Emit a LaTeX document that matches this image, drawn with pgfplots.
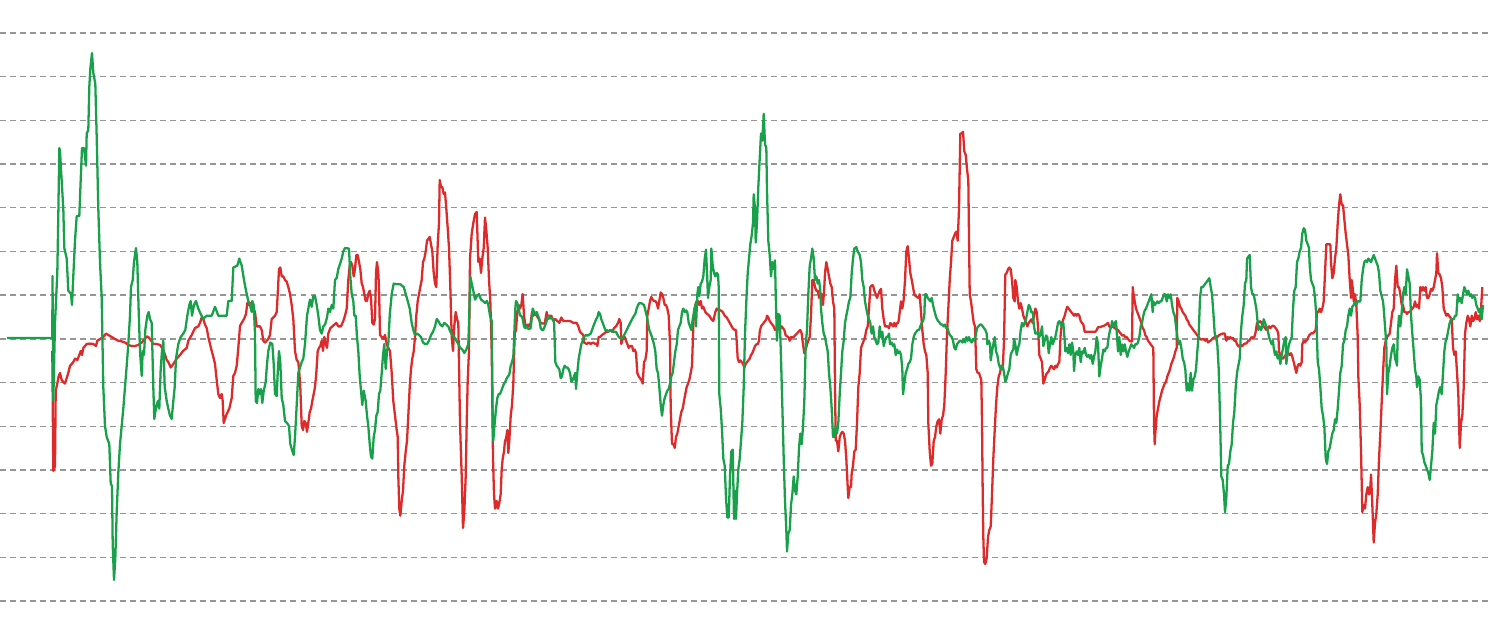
\documentclass[border=0pt]{standalone}
\usepackage{pgfplots}
\pgfplotsset{compat=1.18}
\definecolor{lnred}{RGB}{221,42,42}
\definecolor{lngreen}{RGB}{24,160,74}
\definecolor{gridgray}{RGB}{150,150,150}
\begin{document}
\begin{tikzpicture}
\useasboundingbox (0,0) rectangle (14.9cm,6.33cm);
\begin{axis}[
  at={(0,0)}, anchor=south west,
  scale only axis, width=14.9cm, height=6.33cm,
  xmin=0, xmax=1490, ymin=0, ymax=633, y dir=reverse,
  axis line style={draw=none},
  xtick=\empty,
  ytick={33,76.7,120.4,164.1,207.8,251.5,295.2,339,382.6,426.3,470,513.7,557.4,601.1},
  yticklabels={}, major tick length=0pt,
  ymajorgrids,
  grid style={gridgray, line width=0.4pt, dash pattern=on 1.7pt off 1.15pt},
  clip=false,
]
% red series
\addplot[lnred, line width=0.65pt, line join=round, mark=none] coordinates {
(52.3,351) (53.3,471) (55,466) (55.7,391) (57.3,383.6) (58.7,376) (60,373) (61.7,380) (63.3,382) (65,383.6) (66.7,378) (68.3,373) (70,365.7) (71.7,364) (73.3,362) (75,358.6) (77.3,360) (79.3,355) (80.7,351) (82,355) (83.3,348) (85,346) (86.7,344) (90,343.6) (93.3,344) (96,346) (97.3,340.7) (100,339) (103.3,337) (106,333.6) (108.3,335) (111.7,337) (115,339) (118.3,340.7) (121.7,341.4) (125,342.5) (128.3,345) (131.7,346) (135,346) (138.3,345) (141.7,342.5) (143.3,340.7) (145,339) (146.7,336.4) (148.3,337) (150,339) (153.3,344) (156.7,344) (160,345) (163.3,349.6) (166.7,360) (168.3,362) (170.7,367.5) (173.3,364) (176.7,358.6) (180,355) (183.3,350.7) (186.7,348) (188.3,340.7) (191.7,335) (195,328) (198.3,326.4) (200,322.9) (201.7,317.5) (203.3,319) (205,324.6) (206.7,328) (208.3,337) (210,344) (211.7,351) (213.3,356.8) (215,364) (216.7,380) (218.3,394) (220,398) (221.7,394) (222.7,401) (223.7,423) (225,419) (226.7,414) (229.3,408.6) (231.7,398) (233.3,376) (235,372.9) (236.7,365.7) (238.3,348) (240,326) (241.7,322.9) (244,319) (246,314) (247.3,303)
(248.3,305) (250,303) (251.7,305) (253.3,308.6) (255,312) (256.7,326.4) (260,326.4) (261.7,330) (263.3,340.7) (265,342.5) (266.7,340.7) (268.3,339) (270,335) (271.7,319) (273.3,317.5) (275,315.7) (276.7,312) (277.7,294) (279,269) (280.3,267.5) (281.7,276.4) (283.3,276.4) (285,280) (286.7,281.8) (288.3,287) (290,294) (291.7,305) (293.3,319) (295,351) (296.7,360) (298.3,362) (299.3,373) (300.3,387) (301.7,426) (303,430) (304.3,421) (305.7,423) (307,431.8) (308.3,423) (309.7,412) (311,408.6) (312.3,401) (313.7,394) (315,387) (316.3,373) (317.7,351) (319,347.9) (320.3,346) (321.7,340.7) (323,351) (324.3,337) (325.7,344) (327,347.9) (328.3,333.6) (330.3,328.2) (332.3,326.4) (334.3,324.6) (336.3,322.9) (338.3,326.4) (341,326.4) (343.3,321) (345,315.7) (346.7,308.6) (348.3,280) (349.7,265.7) (351,262) (352.3,265.7) (353.7,276.4) (355,269) (356.3,255) (357.7,255) (359,262) (360.3,269) (361.7,283.6) (363,287) (364.3,294) (365.7,301) (367,301) (368.3,294) (369.7,290.7) (371,297.9) (372.3,322.9) (373.7,324.6) (375,319) (376,272.9) (377,262) (378.3,272.9) (379,287) (380,335) (381.7,337) (383.3,339) (385,335) (386.7,344) (388.3,347.9) (390,351) (391.7,373) (393.3,401) (395,415.7) (396.7,430) (397.7,437) (398.3,476) (399.3,508.6) (400.3,515.7) (401.7,501) (403,490.7) (404.3,465.7) (405.7,451.4) (407,440.7) (408.3,415.7) (409.7,387) (411,369) (412.3,358.6) (413.7,351.4) (415,337) (416.3,315.7) (417.7,301) (419,294) (420.3,287) (421.7,280) (423,262) (424.3,258.6) (425.7,251.4) (427,240.7) (428.3,239) (429.7,237) (431,244.3) (432.3,251.4) (433.7,272.9) (435,283.6) (436.3,287) (437.7,244.3) (439,223) (439.7,180) (441,187) (442.3,187) (443.7,194) (445,192.5) (446.3,208.6) (447.7,228) (449,248) (450.3,287) (451.7,337) (453,351) (454.3,326) (455.7,312) (457,319) (458.3,322.9) (460,423) (461.7,476) (463,528) (464.3,512) (465.7,476) (466.7,423) (467.7,380) (469,351) (470,258.6) (471.7,233.6) (473.3,223) (475,214) (476.7,212) (478.3,262) (479.7,258.6) (481,272.9) (482.3,258.6) (483.7,248) (485,217.5) (486.3,230) (487.7,248) (489,280) (490.3,301) (491.7,351) (493,458.6)
(494,494) (495,508.6) (496.7,501) (498,508.6) (499.3,503) (500.7,494) (501.7,469) (502.7,458.6) (504,451.4) (505,440.7) (506,439) (507.3,430) (508.3,453) (509.3,440.7) (510.7,415.7) (512,405) (513.3,383.6) (514.7,333.6) (516,330) (517.3,312) (518.7,305) (520,308.6) (521.3,305) (522.7,294) (524,315.7) (525.3,324.6) (526.7,326.4) (528,324.6) (529.3,326.4) (530.7,322.9) (532,312) (533.3,315.7) (534.7,314) (536.7,315.7) (538.7,319) (540.7,322.9) (542.7,323.6) (544.7,323.6) (546.7,312) (548,319) (549.3,315.7) (551.3,315.7) (553.3,321) (555.3,319) (557.3,321) (559.3,322.9) (561.3,317.5) (563.3,321) (566.7,321) (570,321) (573.3,322.9) (576.7,322.9) (578.3,326.4) (580,331.8) (581.7,333.6) (583.3,335) (584,342.5) (586.7,344) (588.7,342.5) (590.7,344) (592.7,342.5) (594.7,343.6) (596.7,344) (597.3,346) (598.7,337) (600,337) (602,335) (604,333.6) (606,331.8) (608,331.8) (610,330) (612,331.8) (614,328.2) (616,326.4) (618,322.9) (619.3,319) (620.7,322.9) (621.3,344) (622.7,339) (624.7,337) (626,340.7) (627.3,344) (628.7,347.9) (630,346) (632,346) (633.3,351) (634.7,349.6) (636,353) (637.3,373) (638.7,376.4) (640,378.2) (641.3,380) (642.7,383.6) (644,362) (645.3,360) (646.7,351) (647.3,315.7) (648.7,308.6) (650,301) (651.3,297) (652.7,299.6) (654,301) (655.3,301) (656.7,303) (658,308.6) (659.3,301) (660.7,292.5) (662,294) (663.3,297.9) (664.7,305) (666,305) (667.3,308.6) (668.7,315.7) (670,344) (670.7,408.6) (672,444) (673.3,444) (674.7,447.9) (676,437) (677.3,433.6) (678.7,426) (680,419) (681.3,412) (682.7,408.6) (684,401) (685.3,394) (686.7,387) (688,383.6) (689.3,380) (690.7,373) (692,365.7) (693.3,326.4) (694,312) (695.3,305) (696.7,301) (698,301) (699.3,305) (700.7,301) (702,308.6) (703.3,306.8) (705.3,312) (707.3,314) (709.3,315.7) (711.3,319) (713.3,321) (715.3,312) (716.7,308.6) (718.7,310.4) (720.7,310.4) (722.7,312) (724.7,315.7) (726.7,317.5) (728.7,321) (730.7,324.6) (732.7,328.2) (734.7,330) (736,330)
(737.7,358.6) (739,362.1) (740.3,360.4) (741.7,362.1) (743,363.9) (744.3,367.5) (745.7,363.9) (747,362.1) (748.3,360.4) (749.7,358.6) (751,355) (752.3,353.2) (753.7,349.6) (755,346.1) (756.3,344.3) (757.7,344.3) (759,340.7) (759.7,331.8) (761,326.4) (762.3,324.6) (763.7,322.9) (765,321.1) (766.3,319.3) (767,315.7) (768.3,317.5) (769.7,321.1) (771,322.9) (772.3,324.6) (773.7,326.4) (775,330) (776.3,328.2) (777.7,330) (779,326.4) (780.3,328.2) (781.7,326.4) (783,328.2) (784.3,330) (785.7,335.4) (787,336.4) (788.3,337.1) (789.7,340.7) (791,337.1) (793.7,337.1) (795,335.4) (797,333.6) (798.3,331.8) (800.3,330) (801.7,333.6) (803,344.3) (804.3,353.2) (805.7,349.6) (807,344.3) (808.3,340.7) (809.7,337.1) (811,315.7) (812.3,280) (813.7,280) (815,287.1) (816.3,290.7) (817.7,290.7) (819,297.9) (820.3,294.3) (821.7,294.3) (823,305) (824.3,287.1) (825,272.9) (826.3,262.1) (827.7,269.3) (829,276.4) (830.3,283.6) (831.7,287.1) (833,301.4) (834.3,308.6) (835,387.1) (835.7,440.7) (837,440.7) (838.3,451.4) (839.7,437.1) (841,433.6) (842.3,431.8) (843.7,433.6) (845,440.7) (846.3,458.6) (847.7,487.1) (848.3,497.9) (849.7,487.1) (851,487.1) (851.7,472.9) (853,465.7) (854.3,451.4) (855.7,449.6) (857,422.9) (858.3,387.1) (859.7,372.9) (861,347.9) (862.3,344.3) (863.7,340.7) (865,337.1) (866.3,330) (867.7,326.4) (869,308.6) (870.3,287.1) (871.7,285.4) (873,285.4) (874.3,290.7) (875.7,294.3) (877,297.9) (878.3,294.3) (879.7,290.7) (881,288.9) (882.3,308.6) (883.7,319.3) (885,326.4) (887.7,326.4) (889,328.2) (890.3,322.9) (891.7,324.6) (893,326.4) (894.3,322.9) (895.7,326.4) (897,322.9) (898.3,322.9) (899.7,312.1) (901,301.4) (902.3,308.6) (903.7,299.6) (905,280) (906.3,251.4) (907.7,246.1) (909,258.6) (910.3,272.9) (911.7,280) (913,287.1) (914.3,294.3) (915.7,296.1) (917,297.1) (918.3,297.9) (919.7,294.3) (921,312.1) (922.3,330) (923.7,344.3) (925,351.4) (926.3,355) (927.7,372.9) (928.3,422.9) (929.7,451.4) (931,465.7) (932.3,463.9) (933.7,440.7) (935,437.1) (936.3,426.4) (937.7,421.1) (939,419.3) (940.3,433.6) (941.7,419.3) (943,415.7) (944.3,405) (945.7,372.9) (947,333.6) (948.3,308.6) (949.7,280) (951,262.1) (952.3,240.7) (953.7,237.1) (955,233.6) (956.3,231.8) (957.7,240.7) (959,208.6) (960.3,133.6) (961.7,133.6) (963,131.8) (964.3,151.4) (965.7,155) (967,169.3) (968.3,180) (969.7,294.3) (971,301.4) (972.3,312.1) (973.7,322.9) (975,326.4) (976.3,369.3) (977.7,372.9) (979,372.9)
(981.3,380) (982,422.9) (982.7,494.3) (983.3,537.1) (984,562.1) (985.3,564) (986.7,557.9) (988,537.1) (989.3,530) (990.7,526.4) (992,494.3) (993.3,458.6) (994.7,430) (996,405) (997.3,387.1) (998.7,376.4) (1000,372.9) (1001.3,365.7) (1002.7,369.3) (1004,340.7) (1005.3,274.6) (1006.7,272.9) (1008,269.3) (1009.3,267.5) (1010.7,269.3) (1012,280) (1013.3,297.9) (1014.7,301.4) (1015.3,280) (1016.7,287.1) (1018,301.4) (1019.3,308.6) (1020.7,303.2) (1022,308.6) (1023.3,315.7) (1024.7,319.3) (1026,322.9) (1027.3,326.4) (1028.7,322.9) (1030,321.1) (1031.3,319.3) (1032.7,322.9) (1034,315.7) (1035.3,308.6) (1036.7,312.1) (1038,326.4) (1039.3,355) (1040.7,358.6) (1042,362.1) (1043.3,383.6) (1044.7,380) (1046,374.6) (1047.3,372.9) (1048.7,371.1) (1050,367.5) (1051.3,365.7) (1052.7,367.5) (1054,369.3) (1055.3,365.7) (1056.7,367.5) (1058,363.9) (1059.3,362.1) (1060.7,333.6) (1062,322.9) (1063.3,319.3) (1064.7,315.7) (1066,310.4) (1067.3,306.8) (1068.7,308.6) (1070,310.4) (1071.3,312.1) (1072.7,313.9) (1074,315.7) (1075.3,313.9) (1076.7,315.7) (1078,313.9) (1079.3,315.7) (1080.7,321.1) (1082,322.9) (1083.3,324.6) (1084.7,331.8) (1086.7,331.8) (1090,331.8) (1093.3,331.8) (1095.3,331.8) (1096.7,330) (1098,327.1) (1100,327.1) (1102,326.4) (1104,325.7) (1106,324.6) (1108,322.9) (1109.3,326.4) (1110.7,327.1) (1112.7,326.4) (1114.7,328.2) (1116.7,329.3) (1118,330) (1119.3,331.8) (1120.7,333.6) (1122,335.4) (1124,335.4) (1125.3,337.1) (1126.7,337.1) (1128,338.9) (1129.3,340.7) (1130.7,341.4) (1132,341.4) (1132.7,287.1) (1133.3,292.5) (1134.7,301.4) (1136,308.6) (1137.3,312.1) (1138.7,315.7) (1140,319.3) (1141.3,322.9) (1142.7,328.2) (1144,330) (1145.3,335.4) (1146.7,337.1) (1148,340.7) (1149.3,342.5) (1150.7,344.3) (1152,346.1) (1153.3,347.9) (1154,422.9) (1154.7,444.3) (1155.3,433.6) (1156.7,415.7) (1158,408.6) (1159.3,401.4) (1160.7,396.1) (1162,390.7) (1163.3,387.1) (1164.7,383.6) (1166,381.8) (1167.3,376.4) (1168.7,372.9) (1170,369.3) (1171.3,363.9) (1172.7,360.4) (1174,356.8) (1175.3,351.4) (1176.7,347.9) (1177.3,297.9) (1178.7,301.4) (1180,306.8) (1181.3,308.6) (1182.7,312.1) (1184,313.9) (1185.3,315.7) (1186.7,319.3) (1188,321.1) (1189.3,324.6) (1190.7,326.4) (1192,328.2) (1193.3,330) (1194.7,331.8) (1196,333.6) (1197.3,335.4) (1198.7,337.1) (1200,338.9) (1201.3,339.6) (1203.3,338.9) (1205.3,340.7) (1206.7,339) (1208,342.5) (1209.3,341.4) (1210.7,340.7) (1212,339) (1213.3,337.9) (1214.7,337.1) (1216,336.4) (1217.3,337.1) (1218.7,335.4) (1220.7,334.3) (1222.7,333.6) (1224.7,333.6)
(1226.3,340.7) (1227.7,337.1) (1229,338.9) (1230.3,337.1) (1231.7,338.9) (1233,337.9) (1234.3,340.7) (1235.7,340.7) (1237,344.3) (1238.3,346.1) (1239.7,347.1) (1241,345) (1242.3,346.1) (1243.7,344.3) (1245,343.6) (1246.3,343.6) (1247.7,341.4) (1249,340.7) (1250.3,338.9) (1251.7,337.1) (1253,337.9) (1254.3,337.1) (1255.7,331.8) (1257,322.9) (1258.3,322.9) (1259.7,321.1) (1261,322.1) (1262.3,324.6) (1263.7,326.4) (1265,328.2) (1266.3,330) (1267.7,328.2) (1269,326.4) (1270.3,328.2) (1271.7,326.4) (1273,325.7) (1274.3,326.4) (1275.7,328.2) (1277,330) (1278.3,333.6) (1279,351.4) (1280.3,355) (1281.7,358.6) (1283,358.6) (1284.3,356.8) (1285.7,355) (1287,355) (1288.3,353.2) (1289.7,355) (1291,353.2) (1292.3,356.8) (1293.7,362.1) (1295,367.5) (1296.3,372.9) (1297.7,365.7) (1299,363.9) (1300.3,365.7) (1301.7,362.1) (1302.3,344.3) (1303.7,340.7) (1305,342.5) (1306.3,340.7) (1307.7,338.9) (1309,335.4) (1310.3,334.3) (1311.7,332.9) (1313,333.6) (1314.3,331.8) (1315.7,330) (1317,312.1) (1318.3,312.1) (1319.7,308.6) (1321,312.1) (1322.3,308.6) (1323.7,301.4) (1325,272.9) (1326.3,244.3) (1329,244.3) (1330.3,244.3) (1331,262.1) (1332.3,278.2) (1333.7,272.9) (1335,258.6) (1336.3,247.9) (1337.7,222.9) (1339,205) (1340.3,194.3) (1341.7,205) (1343,205) (1344.3,219.3) (1345.7,233.6) (1347,244.3) (1348.3,255) (1349.7,280) (1351,297.9) (1351.7,280) (1353,290.7) (1353.7,301.4) (1355,294.3) (1356.3,305) (1357.7,337.1) (1358.3,376.4) (1359.7,405) (1361,451.4) (1361.7,483.6) (1362.3,512.1) (1363.7,505) (1365,508.6) (1366.3,494.3) (1367.7,487.1) (1369,494.3) (1370.3,487.1) (1371,474.6) (1372.3,505) (1373.7,542.5) (1375,522.9) (1376.3,513.9) (1377.7,494.3) (1379,458.6) (1380.3,433.6) (1381.7,401.4) (1383,372.9) (1384.3,347.9) (1385.7,340.7) (1387,337.1) (1388.3,335.4) (1389.7,333.6) (1391,322.9) (1392.3,312.1) (1393.7,308.6) (1395,280) (1396.3,265.7) (1397.7,287.1) (1399,287.1) (1400.3,294.3) (1401.7,305) (1403,305) (1404.3,312.1) (1405.7,312.1) (1407,313.9) (1408.3,312.1) (1409.7,312.1) (1411,310.4) (1412.3,308.6) (1413.7,306.8) (1415,301.4) (1416.3,306.8) (1417.7,305) (1419,308.6) (1420.3,287.1) (1421.7,290.7) (1423,287.1) (1424.3,290.7) (1425.7,287.1) (1427,297.9) (1428.3,297.9) (1429.7,294.3) (1431,288.9) (1432.3,290.7) (1433.7,287.1) (1435,280) (1436.3,272.9) (1437,253.2) (1438.3,272.9) (1439.7,274.6) (1441,278.2) (1442.3,287.1) (1443.7,308.6) (1445,312.1) (1446.3,315.7) (1447.7,313.9) (1449,315.7) (1450.3,317.5) (1451.7,319.3) (1453,347.9) (1454.3,355) (1455.7,351.4) (1457,372.9) (1458.3,394.3) (1459.7,447.9) (1461,422.9) (1462.3,415.7) (1463.7,387.1) (1465,333.6) (1466.3,322.9) (1467.7,315.7) (1469,319.3) (1470.3,326.4) (1471.7,315.7) (1473,321.1) (1474.3,319.3) (1475.7,312.1) (1477,319.3) (1478.3,315.7) (1479.7,321.1) (1481,308.6) (1482.3,287.1)
};
% green series
\addplot[lngreen, line width=0.65pt, line join=round, mark=none] coordinates {
(7,338) (52.3,338) (52.5,276) (53.3,401) (55,323) (57.3,273) (58.3,216) (59.3,148) (60,151) (61,169) (63.3,208.6) (64.3,248) (66.7,258.6) (68.3,290.7) (71,294) (72,305) (73.3,276) (75,240.7) (76.7,216) (79.3,216) (80.7,180) (82,148) (84,148) (86,165.7) (86.7,133.6) (88.3,130) (89.3,87) (90.3,69) (92,53) (93.3,73) (95.3,83.6) (96.7,137) (98.3,208.6) (100,262) (101.7,298) (103.3,387) (105,426) (106.7,437) (109.3,444) (110.7,483.6) (112,486) (112.7,544) (114,580) (115.3,558.6) (116.7,512) (118.3,473) (120,444) (121.7,426) (123.3,408.6) (125,387) (126.7,365.7) (128.3,344) (130,315.7) (131,287) (132.7,280) (134,262) (136,248) (137.3,262) (138.7,312) (140,351) (141.7,376) (142.7,351) (144,355) (145.3,330) (147.3,315.7) (148.7,312) (150,319) (151.7,323) (153.3,387) (154.3,419) (155.3,412) (156.7,405) (158,401) (159.3,408.6) (160.7,369) (162,351) (163.3,340.7) (164.7,387) (166.7,401) (168.3,408.6) (170,415.7) (171.7,419) (173.3,401) (174.7,387) (176,358.6) (178.3,344) (180.7,337) (183.3,333.6) (185.3,330) (187.3,315.7) (189.3,305) (190.7,301) (192,315.7) (194,305) (196,301) (198.3,308.6) (200.7,314) (203.3,319) (206.7,315.7) (211.7,315.7) (215,306.8) (218.3,315.7) (221.7,315.7) (226.7,315.7) (228.3,301) (231.7,301) (233.3,267.5) (237.3,265.7) (239.3,258.6) (241.7,265.7) (244,280) (246,290.7) (248.3,301)
(250,305) (251.7,312) (252.3,301) (253.7,305) (255,333.6) (255.7,401) (257,403) (258.3,389) (259.7,394) (261,389) (262.3,403) (263.7,391) (265.7,382) (267,364) (268.3,351) (270.3,342.5) (272.3,344) (273.7,364) (275,394) (276.7,396) (277.7,373) (279,351) (280.3,362) (281.7,398) (283.3,405) (285,421) (287,423) (289,426) (290.3,444) (292.3,451) (293.7,455) (295,437) (296.7,405) (298.3,373) (300,367.5) (301.7,362) (303.3,358.6) (305,344) (307,315.7) (308.3,308.6) (310,299.6) (311.7,306.8) (313.3,296) (315,296) (316.7,305) (318.3,315.7) (320,330) (321.7,333.6) (323.3,326.4) (325,324.6) (327,317.5) (328.3,308.6) (330,312) (331.7,305) (333.3,308.6) (335,280) (336.7,278) (338.3,269) (340,264) (341.7,258.6) (343.3,251.4) (345,248) (349,248.6) (350.3,276.4) (351.7,294) (353.3,301) (354.3,315.7) (355.7,315.7) (357,337) (358.3,351) (359.7,376) (361,390.7) (362.3,405) (363.7,390.7) (365.7,401) (367,415.7) (368.3,426) (369.7,444) (371,456.8) (372.3,458.6) (373.7,437) (375,430) (376.3,415.7) (377.7,412) (379,394) (380.3,390.7) (381.7,373) (383,355) (384.3,344) (385.7,369) (387,351) (388.3,344) (389.7,315.7) (391.7,294) (393.7,283.6) (397,284.3) (400.3,284.3) (403.7,287) (405.7,294) (407.7,301) (409.7,308.6) (411.7,322.9) (413.3,330) (415,335) (417,333.6) (419,335) (421,337) (423,342.5) (425,344) (427,344) (429,340.7) (431,335) (433,331.8) (435,326.4) (436.7,319) (438.3,321) (440.3,324.6) (442.3,326.4) (444.3,322.9) (446.3,324.6) (448.3,326.4) (450.3,331.8) (452.3,335) (454.3,337) (456.3,340.7) (458.3,344) (460.3,347.9) (462.3,349.6) (464.3,353) (466.3,349.6) (468.3,344) (469,322.9) (470.3,276.4) (471.7,283.6) (473.3,290.7) (475,299.6) (477,296) (479,294) (481,299.6) (483,301) (485,303) (487,301) (488.3,305) (490,315.7) (491.7,321)
(492.7,423) (493.3,440.7) (494.7,423) (496,408.6) (497.3,398) (498.7,394) (500,394) (501.3,390.7) (502.7,387) (504,383.6) (505.3,381.8) (506.7,378.2) (508,376.4) (509.3,374.6) (510.7,365.7) (512,362) (513.3,356.8) (514,340.7) (515.3,308.6) (516,301) (517.3,303) (518.7,308.6) (520,315.7) (521.3,315.7) (522.7,319) (524,326.4) (525.3,328.2) (526.7,326.4) (528.7,329.3) (530.7,328.2) (532,315.7) (532.7,308.6) (534,312) (535.3,314) (536.7,312) (538,315.7) (539.3,319) (540.7,328.2) (542,330) (543.3,330) (544.7,326.4) (546,322.9) (547.3,319) (548.7,315.7) (550,318.6) (551.3,317.5) (552.7,319) (554,321) (554.7,340.7) (555.3,362) (556.7,365.7) (558,367.5) (559.3,369.3) (560.7,378.2) (562,376.4) (563.3,369.3) (564.7,365.7) (566,367.5) (567.3,367.5) (568.7,369.3) (570,372.9) (571.3,381.8) (572.7,380) (574,376.4) (575.3,372.9) (576,388.9) (577.3,372.9) (578.7,358.6) (580,351.4) (581.3,344.3) (582.7,340.7) (584,337.1) (585.3,335.4) (588,335.4) (590.7,333.6) (592,330) (593.3,326.4) (594.7,322.9) (596,319.3) (597.3,317.5) (598.7,312.1) (600,313.9) (601.3,319.3) (602.7,322.9) (604,326.4) (605.3,330) (606.7,330) (608,331.8) (610.7,330) (613.3,331.8) (616,331.8) (618.7,337.1) (621.3,339) (624,335.4) (626.7,330) (629.3,324.6) (632,319.3) (634,315.7) (635.3,313.9) (636.7,308.6) (638,305) (639.3,303.2) (641.3,303.2) (644,305) (646.7,315.7) (648,322.9) (649.3,330) (650.7,333.6) (652,337.1) (654,344.3) (655.3,351.4) (656.7,369.3) (658,372.9) (659.3,387) (660.7,405) (662,415.7) (663.3,405) (664.7,397.9) (666,394.3) (667.3,390.7) (668.7,388.9) (670,383.6) (671.3,376.4) (672.7,372.9) (674,362.1) (675.3,351.4) (676.7,344.3) (678,330) (679.3,326.4) (680.7,322.9) (682,312.1) (683.3,308.6) (684.7,312.1) (686,310.4) (687.3,312.1) (688.7,322.9) (690,326.4) (691.3,330) (692.7,319.3) (694,312.1) (695.3,305) (696,326.4) (697.3,294.3) (698.3,287.1) (699.3,296.1) (700.7,283.6) (702,281.8) (703.3,276.4) (704.7,258.6) (706,249.6) (707.3,280) (708,297.9) (709.3,287.1) (710.7,280) (711.3,248.6) (712.7,265.7) (714,272.9) (715.3,276.4) (716.7,272.9) (718,274.6) (718.7,287.1) (719.3,394.3) (720.7,408.6) (722,430) (723.3,458.6) (724.7,465.7) (726,497.9) (727.3,517.5) (728.7,517.5) (730,476) (731.3,451.4) (732.7,449.6) (734,519) (735.3,490.7)
(736,519) (737,494.3) (738.3,469.3) (739.7,458.6) (741,440.7) (742.3,422.9) (743.7,387.1) (745,333.6) (746.3,301.4) (747.7,272.9) (749,258.6) (750.3,244.3) (751.7,235.4) (753,222.9) (753.7,194.3) (755,208.6) (755.7,242.5) (757,222.9) (758.3,187.1) (759.7,158.6) (761,133.6) (762.3,140.7) (763.7,113.9) (765,144.3) (766.3,147.9) (767,190.7) (768.3,240.7) (769.7,255) (771,276.4) (772.3,262.1) (773.7,269.3) (775,260.4) (775.7,294.3) (777,340.7) (778.3,313.9) (779.7,315.7) (781,358.6) (782.3,405) (783.7,458.6) (785,501.4) (786.3,530) (787,551.4) (788.3,533.6) (789.7,530) (791,505) (792.3,494.3) (793.7,476.4) (795,490.7) (796.3,494.3) (797.7,476.4) (799,447.9) (800.3,433.6) (801.7,444.3) (803,426.4) (804.3,401.4) (805.7,344.3) (807,330) (808.3,294.3) (809.7,265.7) (811,258.6) (812.3,248.6) (813.7,258.6) (815,280) (816.3,276.4) (817.7,283.6) (819,280) (820.3,290.7) (821,308.6) (822.3,322.9) (823.7,333.6) (825,337.1) (826.3,344.3) (827.7,351.4) (829,372.9) (830.3,387.1) (831.7,408.6) (833,437.1) (834.3,437.1) (835.7,426.4) (837,433.6) (838.3,422.9) (839.7,394.3) (841,372.9) (842.3,351.4) (843.7,340.7) (845,322.9) (846.3,315.7) (847.7,308.6) (849,301.4) (850.3,297.9) (851.7,272.9) (853,258.6) (854.3,248.6) (856.3,247.1) (857.7,251.4) (859.7,255) (861,262.1) (862.3,280) (863.7,287.1) (865,301.4) (866.3,308.6) (867.7,315.7) (869,319.3) (870.3,322.9) (871,330) (871.7,333.6) (873,326.4) (874.3,337.1) (875.7,340.7) (877,344.3) (878.3,342.5) (879.7,326.4) (881,337.1) (882.3,331.8) (883.7,346.1) (885,340.7) (886.3,337.1) (887.7,337.1) (889,333.6) (890,344.3) (891.7,342.5) (893,346.1) (894.3,344.3) (895.7,355) (897,349.6) (898.3,353.2) (899.7,351.4) (901,355) (902.3,369.3) (903,394.3) (904.3,383.6) (905.7,372.9) (907,369.3) (908.3,363.9) (909.7,362.1) (911,358.6) (912.3,344.3) (913.7,337.1) (915,333.6) (916.3,331.8) (917.7,330) (919,330) (920.3,326.4) (921.7,322.9) (923,321.1) (924.3,315.7) (925,294.3) (926.3,294.3) (927.7,297.9) (929,299.6) (930.3,301.4) (931.7,297.9) (933,305) (934.3,310.4) (935.7,315.7) (937,319.3) (938.3,321.1) (939.7,322.9) (941,324.6) (942.3,324.6) (943.7,326.4) (945,324.6) (946.3,328.2) (947.7,328.2) (949,333.6) (950.3,335.4) (951.7,337.1) (953,340.7) (954.3,347.9) (955.7,349.6) (957,344.3) (958.3,342.5) (959.7,340.7) (961,340.7) (962.3,342.5) (963.7,338.9) (965,342.5) (966.3,337.1) (967.7,340.7) (969,337.1) (970.3,340.7) (971.7,342.5) (973,338.9) (974.3,340.7) (975.7,335.4) (977,328.2) (978.3,326.4)
(980,324.6) (981.3,324.6) (982.7,326.4) (984,328.2) (985.3,330) (986.7,333.6) (987.3,344.3) (988.7,340.7) (990,344.3) (990.7,360.4) (992,351.4) (993.3,344.3) (994.7,337.1) (996,351.4) (997.3,355) (998.7,363.9) (1000,367.5) (1001.3,369.3) (1002.7,365.7) (1004,372.9) (1005.3,381.8) (1006.7,378.2) (1008,372.9) (1009.3,369.3) (1010.7,355) (1012,351.4) (1013.3,349.6) (1014,338.9) (1015.3,344.3) (1016.7,355) (1018,347.9) (1019.3,344.3) (1020.7,330) (1022,322.9) (1023.3,326.4) (1024.7,322.9) (1026,319.3) (1027.3,312.1) (1028.7,305) (1030,306.8) (1031.3,312.1) (1032.7,312.1) (1034,326.4) (1035.3,333.6) (1036.7,333.6) (1038,331.8) (1039.3,337.1) (1040.7,333.6) (1042,326.4) (1043.3,346.1) (1044.7,340.7) (1046,335.4) (1047.3,337.1) (1048.7,353.2) (1050,344.3) (1051.3,337.1) (1052.7,344.3) (1054,340.7) (1055.3,337.1) (1056.7,330) (1058,322.9) (1059.3,321.1) (1060.7,324.6) (1062,326.4) (1063.3,322.9) (1064.7,340.7) (1065.3,351.4) (1066.7,347.9) (1068,353.2) (1069.3,344.3) (1070.7,355) (1072,342.5) (1073.3,351.4) (1074,371.1) (1075.3,355) (1076.7,351.4) (1078,355) (1079.3,347.9) (1080.7,362.1) (1082,351.4) (1083.3,353.2) (1084.7,347.9) (1086,355) (1087.3,356.8) (1088.7,355) (1090,358.6) (1091.3,355) (1092.7,363.9) (1094,356.8) (1095.3,351.4) (1096.7,337.1) (1098,344.3) (1099.3,376.4) (1100.7,365.7) (1102,358.6) (1103.3,349.6) (1104.7,351.4) (1106,347.9) (1107.3,347.9) (1108.7,337.1) (1110,330) (1111.3,326.4) (1112,321.1) (1113.3,326.4) (1114.7,322.9) (1116,321.1) (1117.3,340.7) (1118,351.4) (1119.3,337.1) (1120.7,355) (1122,344.3) (1123.3,351.4) (1124.7,344.3) (1126,351.4) (1127.3,356.8) (1128.7,351.4) (1130,347.9) (1131.3,344.3) (1132.7,346.1) (1134,347.9) (1135.3,344.3) (1136.7,344.3) (1138,342.5) (1139.3,337.1) (1140.7,326.4) (1142,322.9) (1143.3,315.7) (1144.7,310.4) (1146,308.6) (1147.3,305) (1148.7,301.4) (1150,297.9) (1151.3,294.3) (1152.7,312.1) (1153.3,301.4) (1154.7,305) (1156,303.2) (1157.3,301.4) (1158.7,303.2) (1160,301.4) (1161.3,301.4) (1162.7,297.9) (1164,294.3) (1165.3,294.3) (1166.7,301.4) (1168,294.3) (1169.3,297.9) (1170.7,294.3) (1172,305) (1173.3,312.1) (1174.7,315.7) (1176,326.4) (1177.3,337.1) (1178.7,344.3) (1180,340.7) (1181.3,347.9) (1182.7,358.6) (1184,362.1) (1185.3,369.3) (1186.7,390.7) (1188,383.6) (1189.3,390.7) (1190.7,372.9) (1192,390.7) (1193.3,380) (1194.7,376.4) (1196,369.3) (1197.3,351.4) (1198.7,333.6) (1200,297.9) (1201.3,287.1) (1202.7,287.1) (1204,285.4) (1205.3,283.6) (1206.7,281.8) (1208,280) (1209.3,278.2) (1210.7,287.1) (1212,294.3) (1213.3,312.1) (1214.7,333.6) (1216,337.1) (1217.3,344.3) (1218.7,369.3) (1220,415.7) (1221.3,476.4) (1222.7,480) (1224,494.3)
(1225,512.1) (1226.3,497.9) (1227.7,465.7) (1229,464) (1230.3,451.4) (1231.7,444.3) (1233,422.9) (1234.3,412.1) (1235.7,387.1) (1237,372.9) (1238.3,365.7) (1239.7,358.6) (1241,330) (1242.3,315.7) (1243.7,305) (1245,283.6) (1246.3,280) (1247,258.6) (1248.3,256.8) (1249.7,255) (1251,287.1) (1252.3,294.3) (1253.7,294.3) (1255,301.4) (1256.3,308.6) (1257,315.7) (1258.3,330) (1259.7,326.4) (1261,330) (1262.3,326.4) (1263.7,319.3) (1265,322.9) (1266.3,326.4) (1267.7,330) (1269,337.1) (1270.3,340.7) (1271.7,344.3) (1273,340.7) (1273.7,347.9) (1275,355) (1276.3,351.4) (1277.7,358.6) (1279,355) (1280.3,363.9) (1281.7,355) (1283,347.9) (1284.3,340.7) (1285.7,337.1) (1286.3,363.9) (1287.7,351.4) (1289,344.3) (1290.3,340.7) (1291.7,337.1) (1293,308.6) (1294.3,290.7) (1295.7,287.1) (1297,262.1) (1298.3,258.6) (1299.7,251.4) (1301,247.9) (1302.3,233.6) (1303.7,228.2) (1305,230) (1306.3,240.7) (1307.7,244.3) (1309,247.9) (1309.7,265.7) (1311,280) (1312.3,283.6) (1313.7,287.1) (1315,297.9) (1316.3,315.7) (1317.7,362.1) (1319,369.3) (1320.3,387.1) (1321.7,408.6) (1323,415.7) (1324.3,426.4) (1325.7,458.6) (1327,464) (1328.3,451.4) (1329.7,447.9) (1331,440.7) (1332.3,433.6) (1333.7,430) (1335,419.3) (1336.3,422.9) (1337.7,408.6) (1339,390.7) (1340.3,372.9) (1341.7,365.7) (1343,344.3) (1344.3,340.7) (1345.7,330) (1347,326.4) (1348.3,315.7) (1349.7,308.6) (1351,315.7) (1352.3,306.8) (1353.7,305) (1355,301.4) (1356.3,305) (1357.7,301.4) (1360.3,301.4) (1361.7,280) (1363,269.3) (1364.3,262.1) (1365.7,260.4) (1367,262.1) (1368.3,258.6) (1369.7,260.4) (1371,262.1) (1372.3,258.6) (1373.7,255) (1375,258.6) (1376.3,262.1) (1377.7,265.7) (1379,272.9) (1380.3,290.7) (1381.7,296.1) (1383,301.4) (1383.7,308.6) (1385,326.4) (1386.3,344.3) (1387,394.3) (1388.3,372.9) (1389.7,365.7) (1391,355) (1392.3,347.9) (1393.7,344.3) (1395,358.6) (1396.3,362.1) (1397,365.7) (1397.7,333.6) (1399,315.7) (1400.3,326.4) (1401.7,312.1) (1403,294.3) (1404.3,287.1) (1405.7,294.3) (1407,269.3) (1408.3,276.4) (1409.7,283.6) (1411,315.7) (1412.3,333.6) (1413.7,351.4) (1415,369.3) (1416.3,376.4) (1417,387.1) (1418.3,376.4) (1419.7,380) (1421,401.4) (1421.7,451.4) (1423,455) (1424.3,462.1) (1425.7,465.7) (1427,469.3) (1428.3,472.9) (1429.7,480) (1431,465.7) (1432.3,451.4) (1433.7,422.9) (1435,433.6) (1436.3,405) (1437.7,397.9) (1439,390.7) (1440.3,387.1) (1441.7,394.3) (1443,372.9) (1444.3,351.4) (1445.7,340.7) (1447,337.1) (1448.3,330) (1449.7,322.9) (1451,319.3) (1452.3,319.3) (1453.7,319.3) (1455,315.7) (1456.3,315.7) (1457.7,294.3) (1459,301.4) (1460.3,297.9) (1461.7,303.2) (1463,294.3) (1464.3,287.1) (1465.7,290.7) (1467,294.3) (1468.3,290.7) (1469.7,296.1) (1471,294.3) (1472.3,297.9) (1473.7,296.1) (1475,297.9) (1476.3,305) (1477.7,308.6) (1479,312.1) (1480.3,308.6) (1481.7,319.3) (1483,305)
};
\end{axis}
\end{tikzpicture}
\end{document}
